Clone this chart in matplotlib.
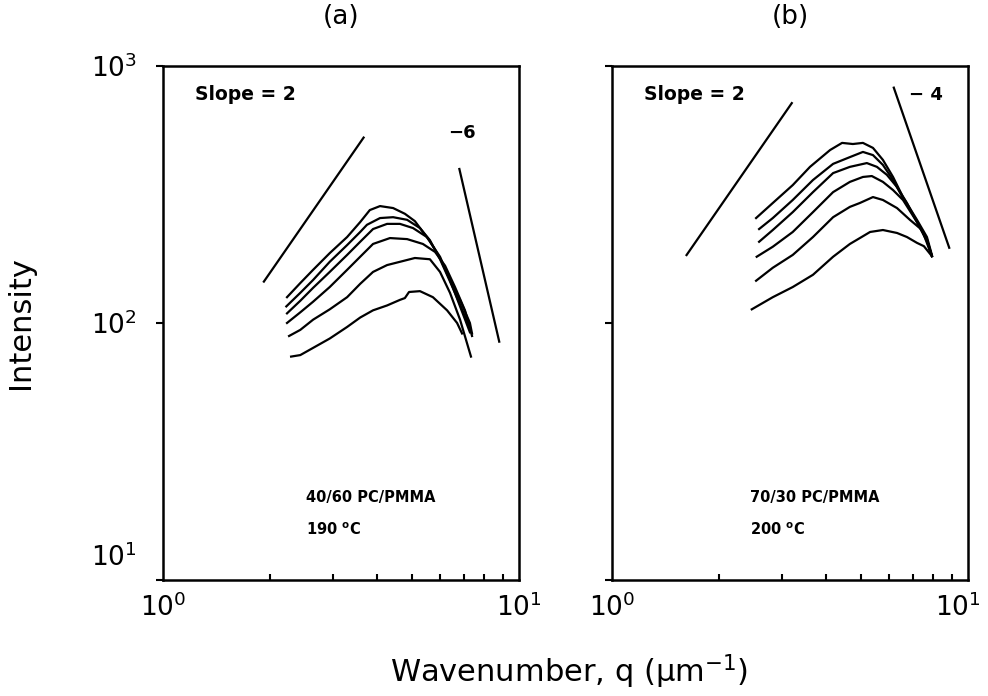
import numpy as np
import matplotlib
matplotlib.use("Agg")
import matplotlib.pyplot as plt
from matplotlib import transforms
from matplotlib.ticker import FixedLocator, NullLocator, NullFormatter

plt.rcParams['font.family'] = ['DejaVu Sans']
plt.rcParams['mathtext.default'] = 'regular'

# (a) 40/60 PC/PMMA at 190 C -- scattering curves, top to bottom
q_a1 = [2.23, 2.43, 2.64, 2.94, 3.29, 3.58, 3.81, 4.07, 4.43, 4.78, 5.10, 5.62, 6.00, 6.40, 6.83, 7.28, 7.38]
I_a1 = [126, 143, 161, 187, 216, 247, 275, 285, 280, 266, 249, 208, 179, 147, 123, 100, 91]
q_a2 = [2.22, 2.43, 2.64, 2.94, 3.29, 3.58, 3.74, 4.07, 4.43, 4.85, 5.27, 5.62, 6.00, 6.40, 6.83, 7.28]
I_a2 = [116, 131, 147, 173, 201, 226, 241, 256, 258, 252, 234, 210, 177, 145, 118, 95]
q_a3 = [2.23, 2.43, 2.64, 2.94, 3.29, 3.58, 3.89, 4.26, 4.63, 5.04, 5.51, 6.00, 6.40, 6.83, 7.28]
I_a3 = [109, 122, 137, 158, 184, 207, 232, 243, 243, 234, 216, 181, 147, 116, 92]
q_a4 = [2.23, 2.43, 2.64, 2.94, 3.29, 3.58, 3.89, 4.34, 4.85, 5.37, 5.81, 6.20, 6.61, 7.05, 7.38]
I_a4 = [100, 110, 121, 138, 161, 181, 203, 214, 212, 203, 189, 167, 138, 112, 89]
q_a5 = [2.26, 2.43, 2.64, 2.94, 3.29, 3.58, 3.89, 4.26, 4.63, 5.10, 5.62, 6.00, 6.40, 6.83, 7.33]
I_a5 = [89, 94, 103, 113, 126, 142, 158, 168, 173, 179, 177, 158, 131, 103, 74]
q_a6 = [2.29, 2.43, 2.64, 2.94, 3.29, 3.58, 3.89, 4.26, 4.63, 4.78, 4.91, 5.27, 5.73, 6.28, 6.70, 6.92]
I_a6 = [74, 75, 80, 87, 96.5, 105, 112, 117, 123, 125, 132, 133, 126, 112, 100, 91]

# (b) 70/30 PC/PMMA at 200 C
q_b1 = [2.54, 2.83, 3.22, 3.60, 4.10, 4.43, 4.75, 5.07, 5.41, 5.77, 6.16, 6.57, 7.19, 7.67, 7.92]
I_b1 = [256, 293, 344, 405, 471, 502, 497, 502, 480, 431, 370, 309, 252, 216, 184]
q_b2 = [2.59, 2.83, 3.22, 3.67, 4.18, 4.66, 5.07, 5.41, 5.77, 6.16, 6.57, 7.19, 7.67, 7.92]
I_b2 = [232, 256, 301, 360, 416, 442, 463, 450, 412, 360, 306, 249, 212, 182]
q_b3 = [2.59, 2.83, 3.22, 3.67, 4.18, 4.66, 5.20, 5.55, 5.92, 6.32, 6.74, 7.19, 7.67, 7.92]
I_b3 = [207, 230, 270, 323, 383, 405, 419, 405, 377, 338, 293, 247, 210, 182]
q_b4 = [2.55, 2.83, 3.22, 3.67, 4.18, 4.66, 5.07, 5.37, 5.77, 6.16, 6.57, 7.19, 7.67, 7.92]
I_b4 = [181, 198, 226, 270, 323, 354, 370, 373, 354, 329, 301, 247, 208, 182]
q_b5 = [2.54, 2.83, 3.22, 3.67, 4.18, 4.66, 4.97, 5.41, 5.77, 6.32, 6.87, 7.43, 7.92]
I_b5 = [146, 164, 184, 216, 258, 283, 293, 309, 301, 280, 252, 230, 182]
q_b6 = [2.47, 2.83, 3.22, 3.67, 4.18, 4.66, 4.97, 5.31, 5.77, 6.32, 6.74, 7.19, 7.52, 7.92]
I_b6 = [113, 126, 138, 154, 181, 203, 214, 226, 230, 224, 216, 205, 199, 182]

# power-law guide lines: (slope, anchor q, anchor I, q from, q to)
guides_a = [(2, 2.65, 276, 1.92, 3.66), (-6, 7.745, 182, 6.8, 8.8)]
guides_b = [(2, 2.28, 364, 1.62, 3.2), (-4, 7.41, 401, 6.19, 8.86)]

curves_a = [(q_a1, I_a1), (q_a2, I_a2), (q_a3, I_a3), (q_a4, I_a4), (q_a5, I_a5), (q_a6, I_a6)]
curves_b = [(q_b1, I_b1), (q_b2, I_b2), (q_b3, I_b3), (q_b4, I_b4), (q_b5, I_b5), (q_b6, I_b6)]

fig = plt.figure(figsize=(9.88, 6.96), dpi=100)
ax_a = fig.add_axes([0.165, 0.1667, 0.3603, 0.7385])
ax_b = fig.add_axes([0.6194, 0.1667, 0.3603, 0.7385])


def setup(ax, title, curves, guides, exp_txt, exp_pos, sample, sample_x, temp):
    ax.set_xscale('log')
    ax.set_yscale('log')
    for q, I in curves:
        ax.plot(q, I, color='black', lw=1.6, solid_joinstyle='round')
    for s, q0, I0, q1, q2 in guides:
        qq = np.array([q1, q2])
        ax.plot(qq, I0 * (qq / q0) ** s, color='black', lw=1.6)
    ax.set_xlim(1, 10)
    ax.set_ylim(10, 1000)
    ax.xaxis.set_major_locator(FixedLocator([1, 10]))
    ax.xaxis.set_minor_locator(FixedLocator([2, 3, 4, 5, 6, 7, 8, 9]))
    ax.xaxis.set_minor_formatter(NullFormatter())
    ax.yaxis.set_major_locator(FixedLocator([10, 100, 1000]))
    ax.yaxis.set_minor_locator(NullLocator())
    ax.tick_params(axis='x', which='major', direction='in', length=0, pad=10, labelsize=19)
    ax.tick_params(axis='x', which='minor', direction='in', length=4, width=1.5)
    ax.tick_params(axis='y', which='major', direction='out', length=5, width=1.5,
                   pad=14, labelsize=19)
    for sp in ax.spines.values():
        sp.set_linewidth(1.8)
    ax.set_title(title, fontsize=19, pad=30)
    ax.text(0.09, 0.945, 'Slope = 2', transform=ax.transAxes, fontsize=13.5,
            fontweight='bold', va='center')
    ax.text(exp_pos[0], exp_pos[1], exp_txt, transform=ax.transAxes, fontsize=13,
            fontweight='bold', va='center')
    ax.text(sample_x, 0.161, sample, transform=ax.transAxes, fontsize=10.5,
            fontweight='bold', va='center')
    ax.text(sample_x, 0.097, temp, transform=ax.transAxes, fontsize=10.5,
            fontweight='bold', va='center')


setup(ax_a, '(a)', curves_a, guides_a, '−6', (0.80, 0.87),
      '40/60 PC/PMMA', 0.402, r'190 $^{\mathbf{o}}$C')
setup(ax_b, '(b)', curves_b, guides_b, '− 4', (0.835, 0.944),
      '70/30 PC/PMMA', 0.388, r'200 $^{\mathbf{o}}$C')
ax_b.tick_params(axis='y', labelleft=False)

ax_a.set_ylabel('Intensity', fontsize=22)
ax_a.yaxis.set_label_coords(-0.36, 0.5)
fig.text(0.576, 0.035, r'Wavenumber, q ($\mu$m$^{-1}$)', fontsize=22, ha='center', va='center')

# lift the lowest y label so it clears the 10^0 below it
lbl = ax_a.yaxis.get_major_ticks()[0].label1
lbl.set_transform(lbl.get_transform() + transforms.ScaledTranslation(0, 0.25, fig.dpi_scale_trans))

# pull the last x label in from the right edge of the figure
lbl = ax_b.xaxis.get_major_ticks()[1].label1
lbl.set_transform(lbl.get_transform() + transforms.ScaledTranslation(-0.1, 0, fig.dpi_scale_trans))

fig.savefig('out.png', dpi=100)
